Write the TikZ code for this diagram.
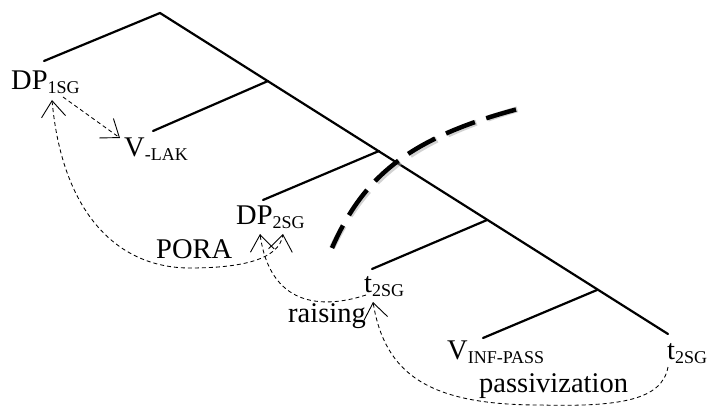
\documentclass[tikz,border=0pt]{standalone}
\usepackage{fontspec}
\setmainfont{Liberation Serif}
\usetikzlibrary{arrows.meta}
\newcommand\lsub[1]{{\fontsize{18}{18}\selectfont\raisebox{-4pt}{#1}}}
\begin{document}
\begin{tikzpicture}[x=1pt,y=-1pt,
  treeline/.style={line width=2.2pt, line cap=round},
  lbl/.style={anchor=base west, inner sep=0pt, font=\fontsize{28.5}{30}\selectfont},
  mv/.style={line width=0.85pt, dash pattern=on 4pt off 3pt},
  bigdash/.style={line width=4.5pt, dash pattern=on 31pt off 12pt, dash phase=6pt},
  >={Straight Barb[length=16pt,width=24pt,line width=0.9pt]}]
\useasboundingbox (0,0) rectangle (709,406);
% tree
\coordinate (root) at (160,13);
\coordinate (n1) at (268,81);
\coordinate (n2) at (379,151);
\coordinate (n3) at (487,220);
\coordinate (n4) at (597,290);
\coordinate (spend) at (668,334);
\coordinate (l0) at (44,61);
\coordinate (l1) at (153,131);
\coordinate (l2) at (263,200);
\coordinate (l3) at (372,269);
\coordinate (l4) at (483,338);
\draw[treeline] (l0) -- (root) -- (spend);
\draw[treeline] (n1) -- (l1);
\draw[treeline] (n2) -- (l2);
\draw[treeline] (n3) -- (l3);
\draw[treeline] (n4) -- (l4);
% labels
\node[lbl] (dp1) at (11,90) {DP\lsub{1SG}};
\node[lbl] (vlak) at (124,157) {V\lsub{-LAK}};
\node[lbl] (dp2) at (236,225) {DP\lsub{2SG}};
\node[lbl] (pora) at (156,258) {PORA};
\node[lbl] (rais) at (288,322) {raising};
\node[lbl] (t1) at (364,292) {t\lsub{2SG}};
\node[lbl] (vinf) at (447,359) {V\lsub{INF-PASS}};
\node[lbl] (t2) at (667,359) {t\lsub{2SG}};
\node[lbl] (pass) at (479,392) {passivization};
% movement arrows
\coordinate (m1s) at (63,97);
\coordinate (m1e) at (120,138);
\coordinate (poraS) at (52,100);
\coordinate (poraE) at (283,234);
\coordinate (rS) at (366,295);
\coordinate (rE) at (260,234);
\coordinate (pS) at (668,367);
\coordinate (pE) at (373,302);
\draw[mv,->] (m1s) -- (m1e);
\draw[mv,<->] (poraS) .. controls (62,210) and (115,268) .. (190,268) .. controls (240,268) and (279,260) .. (poraE);
\draw[mv,->] (rS) .. controls (320,310) and (270,305) .. (rE);
\draw[mv,->] (pS) .. controls (662,400) and (620,407) .. (540,405) .. controls (430,405) and (385,375) .. (pE);
% big dashed boundary with shadow
\coordinate (bd1) at (332,248);
\coordinate (bd2) at (522,108);
\draw[bigdash, black!35, opacity=0.5, line width=6pt, shift={(1.5,2.5)}] (bd1) .. controls (362,180) and (405,138) .. (bd2);
\draw[bigdash] (bd1) .. controls (362,180) and (405,138) .. (bd2);
\end{tikzpicture}
\end{document}
